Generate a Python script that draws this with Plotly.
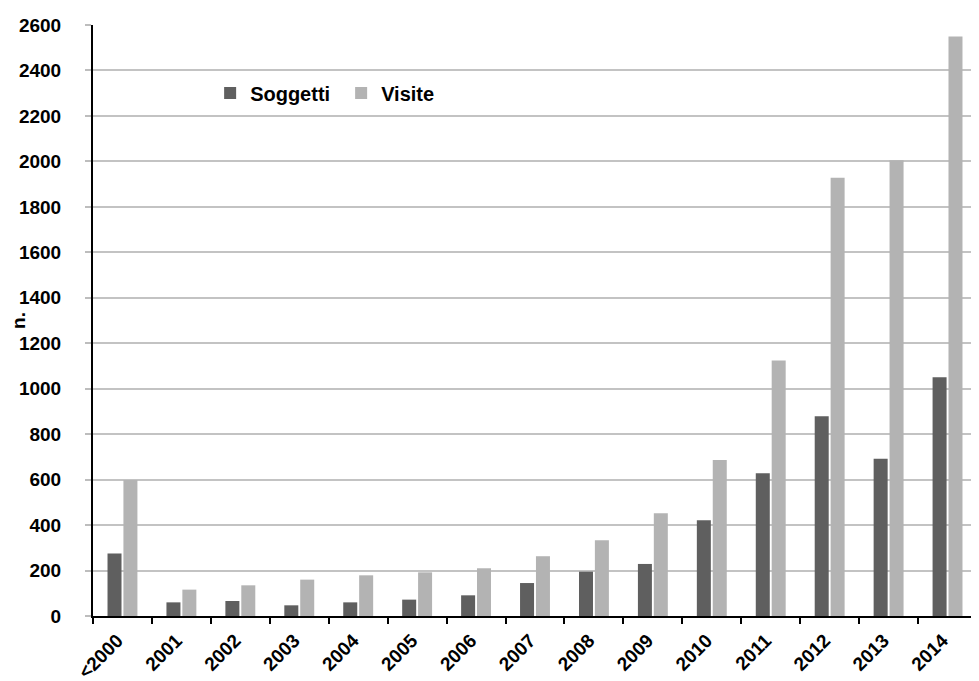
import plotly.graph_objects as go

categories = ["<2000", "2001", "2002", "2003", "2004", "2005", "2006", "2007",
              "2008", "2009", "2010", "2011", "2012", "2013", "2014"]
soggetti = [275, 60, 66, 47, 60, 72, 91, 145, 195, 229, 421, 628, 879, 692, 1050]
visite = [598, 116, 135, 160, 179, 192, 210, 263, 333, 452, 686, 1124, 1928, 2005, 2549]
y_ticks = list(range(0, 2601, 200))

FONT = "Liberation Sans"
TXT = dict(family=FONT, size=19, color="black", weight="bold")
LEG = dict(family=FONT, size=20, color="black", weight="bold")

fig = go.Figure()
fig.add_trace(go.Bar(x=categories, y=soggetti, name="Soggetti",
                     marker=dict(color="#5f5f5f", line=dict(width=0))))
fig.add_trace(go.Bar(x=categories, y=visite, name="Visite",
                     marker=dict(color="#b3b3b3", line=dict(width=0))))

fig.update_layout(
    width=971, height=673,
    margin=dict(l=85, r=2, t=17, b=65),
    paper_bgcolor="white", plot_bgcolor="white",
    barmode="group", bargap=0.46, bargroupgap=0.12,
    font=TXT,
    legend=dict(orientation="h", x=0.1325, y=0.885, yanchor="middle", xanchor="left",
                font=LEG, bgcolor="rgba(0,0,0,0)", itemwidth=30,
                entrywidth=86, entrywidthmode="pixels"),
    xaxis=dict(
        type="category", tickson="boundaries", ticks="outside", ticklen=6,
        tickwidth=2, tickcolor="black", showline=True, linecolor="black",
        linewidth=2, tickangle=-45, showgrid=False, automargin=False,
        ticklabelstandoff=4, ticklabelshift=-5, tickfont=TXT,
    ),
    yaxis=dict(
        range=[0, 2600], tickvals=y_ticks, ticks="outside", ticklen=6,
        tickcolor="#bdbdbd", tickwidth=2, showline=True, linecolor="black",
        linewidth=2, gridcolor="#c3c3c3", gridwidth=2, zeroline=False,
        automargin=False, ticklabelstandoff=20, tickfont=TXT,
        title=dict(text="n.", standoff=0, font=TXT),
    ),
)

fig.write_html("out.html")
